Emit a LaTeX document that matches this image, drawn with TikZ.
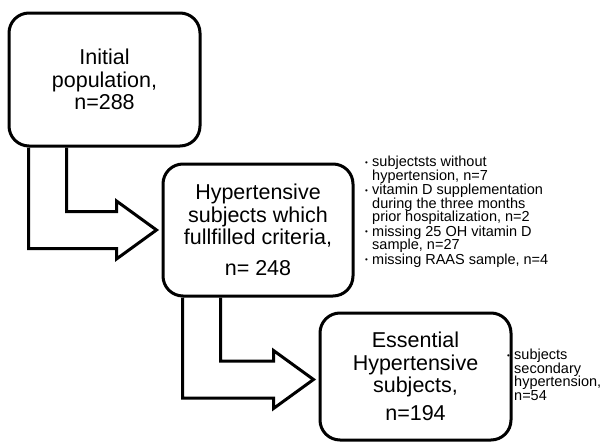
\documentclass[tikz,border=0pt]{standalone}
\usepackage{fontspec}
\setmainfont{Liberation Sans}
\usetikzlibrary{calc}
\setlength{\lineskiplimit}{-20pt}
\tikzset{
  stagebox/.style={
    rectangle, draw=black, line width=3pt, rounded corners=20pt, inner sep=0pt,
    minimum width=191pt, align=center, font=\fontsize{21.5}{22.5}\selectfont
  },
  exclnote/.style={inner sep=0pt, align=left, font=\fontsize{14.5}{13.5}\selectfont},
  flowarrow/.style={draw=black, line width=3pt, line join=miter}
}
% bullet and hanging indent for the exclusion notes
\newcommand{\bul}{\makebox[7pt][l]{\raisebox{1.6pt}{\fontsize{8}{8}\selectfont\textbullet}}}
\newcommand{\ind}{\hspace*{7pt}}
% L-shaped block arrow from the bottom of one box to the west side of the next
\newcommand{\blockflow}[3]{%
  \draw[flowarrow] let \p1=(#1.south west), \p2=($(#2.west)+(0,#3)$) in
    (\x1+21pt,\y1) -- (\x1+21pt,\y2-18.5pt) -- (\x2-45pt,\y2-18.5pt)
    -- (\x2-45pt,\y2-29pt) -- (\x2-5pt,\y2) -- (\x2-45pt,\y2+29pt)
    -- (\x2-45pt,\y2+18.5pt) -- (\x1+59pt,\y2+18.5pt) -- (\x1+59pt,\y1);
}

\begin{document}
\begin{tikzpicture}[x=1pt, y=-1pt]
    \useasboundingbox (0,0) rectangle (614,442);
    \node[stagebox, minimum height=133pt] (b1) at (104.5,79.5) {Initial\\population,\\n=288};
    \node[stagebox, minimum width=190pt, minimum height=132pt] (b2) at (258,230)
      {Hypertensive\\subjects which\\fullfilled criteria,\\[8pt]n= 248};
    \node[stagebox, minimum height=127pt] (b3) at (415.5,376.5)
      {Essential\\Hypertensive\\subjects,\\[5pt]n=194};
    \node[exclnote, anchor=north west] (ex1) at (365,156) {%
      \bul subjectsts without\\ \ind hypertension, n=7\\[1pt]
      \bul vitamin D supplementation\\ \ind during the three months\\ \ind prior hospitalization, n=2\\[1pt]
      \bul missing 25 OH vitamin D\\ \ind sample, n=27\\[1pt]
      \bul missing RAAS sample, n=4};
    \node[exclnote, anchor=north west] (ex2) at (507,349) {%
      \bul subjects\\ \ind secondary\\ \ind hypertension,\\ \ind n=54};
    \blockflow{b1}{b2}{0}
    \blockflow{b2}{b3}{3}
\end{tikzpicture}
\end{document}
